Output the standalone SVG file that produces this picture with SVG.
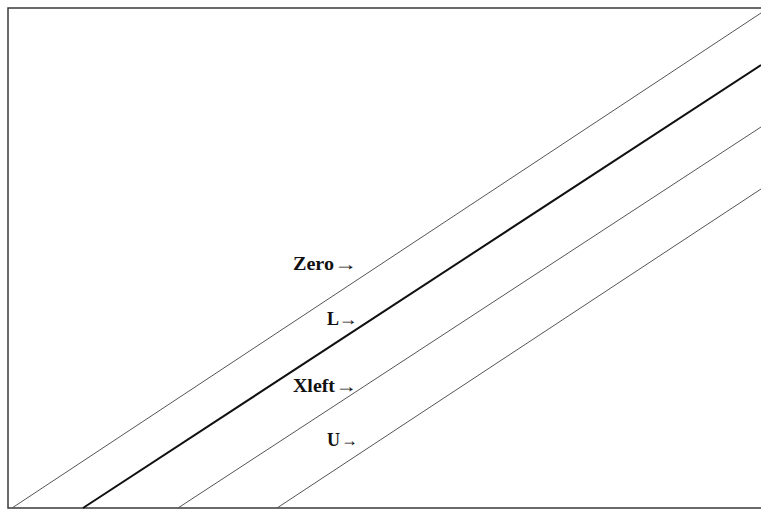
<svg xmlns="http://www.w3.org/2000/svg" width="761" height="509" viewBox="0 0 761 509">
<style>
.frame{fill:none;stroke:#3a3a3a;stroke-width:1.5}
.thin{stroke:#555;stroke-width:1;fill:none}
.thick{stroke:#111;stroke-width:2;fill:none}
.lbl{font-family:"Liberation Serif","Times New Roman",serif;font-weight:bold;font-size:18px;fill:#111}
</style>
<rect width="761" height="509" fill="#fff"/>
<path class="frame" d="M770 8 H8 V508 H770"/>
<g id="connectors">
<line class="thin" x1="12" y1="508" x2="761" y2="13"/>
<line class="thick" x1="83" y1="508" x2="761" y2="65"/>
<line class="thin" x1="178" y1="508" x2="761" y2="127"/>
<line class="thin" x1="277" y1="508" x2="761" y2="189"/>
</g>
<g id="label-zero"><text class="lbl" x="293" y="270" textLength="41" lengthAdjust="spacingAndGlyphs">Zero</text><text class="lbl" transform="translate(334.5 270) scale(1.27 1)">→</text></g>
<g id="label-l"><text class="lbl" x="327" y="325">L</text><text class="lbl" transform="translate(339 325) scale(1.05 1)">→</text></g>
<g id="label-xleft"><text class="lbl" x="293" y="392" textLength="42" lengthAdjust="spacingAndGlyphs">Xleft</text><text class="lbl" transform="translate(335.8 392) scale(1.2 1)">→</text></g>
<g id="label-u"><text class="lbl" x="327" y="446">U</text><text class="lbl" transform="translate(341.5 446) scale(0.92 1)">→</text></g>
</svg>
